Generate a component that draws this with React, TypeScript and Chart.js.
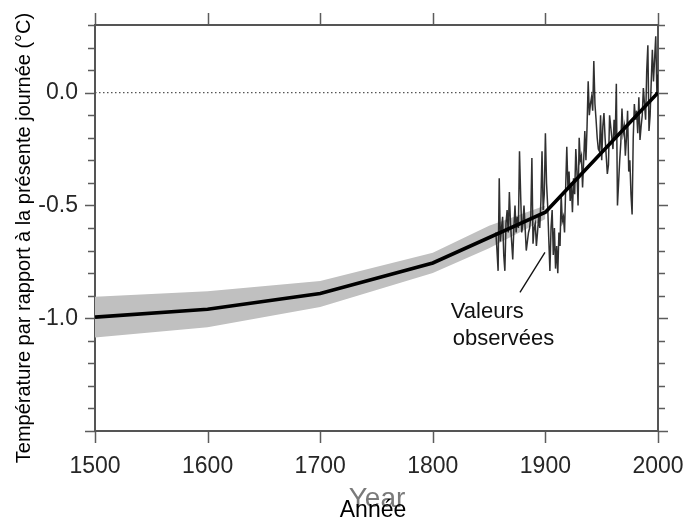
import React, { useEffect, useRef } from 'react';
import { Chart, registerables } from 'chart.js';

Chart.register(...registerables);

const FONT = '"Liberation Sans", Arial, Helvetica, sans-serif';

// Reconstructed smooth curve (century steps)
const smoothYears = [1500, 1600, 1700, 1800, 1900, 2000];
const smoothTemp = [-0.995, -0.96, -0.89, -0.755, -0.53, 0.0];

// Uncertainty band
const bandYears = [1500, 1600, 1700, 1800, 1850, 1900];
const bandUpper = [-0.905, -0.88, -0.835, -0.71, -0.59, -0.5];
const bandLower = [-1.085, -1.04, -0.95, -0.8, -0.69, -0.56];

// Observed annual values, 1856-2000
const obsFirstYear = 1856;
const obsTemp = [
  -0.62, -0.7, -0.79, -0.38, -0.66, -0.6, -0.55, -0.72, -0.79, -0.58,
  -0.52, -0.62, -0.44, -0.58, -0.66, -0.74, -0.6, -0.5, -0.62, -0.55,
  -0.6, -0.26, -0.45, -0.62, -0.58, -0.5, -0.6, -0.7, -0.66, -0.62,
  -0.6, -0.55, -0.29, -0.67, -0.6, -0.58, -0.68, -0.62, -0.55, -0.6,
  -0.48, -0.26, -0.52, -0.45, -0.18, -0.4, -0.5, -0.65, -0.79, -0.6,
  -0.52, -0.72, -0.6, -0.78, -0.68, -0.8, -0.62, -0.68, -0.45, -0.57,
  -0.55, -0.62, -0.42, -0.24, -0.42, -0.35, -0.48, -0.4, -0.53, -0.38,
  -0.45, -0.25, -0.35, -0.5, -0.2, -0.3, -0.28, -0.42, -0.3, -0.17,
  -0.3, -0.15, 0.05, -0.1, -0.05, -0.02, -0.08, 0.14, -0.05, -0.12,
  -0.2, -0.25, -0.26, -0.1, -0.3, -0.15, -0.09, -0.2, -0.28, -0.36,
  -0.32, -0.1, -0.15, -0.2, -0.25, -0.12, -0.2, 0.04, -0.5, -0.4,
  -0.3, -0.22, -0.07, -0.18, -0.15, -0.28, -0.2, -0.08, -0.35, -0.3,
  -0.45, -0.54, -0.2, -0.05, -0.12, -0.08, -0.18, -0.02, -0.21, -0.15,
  -0.1, 0.02, -0.05, -0.12, 0.1, 0.21, -0.17, -0.1, 0.05, 0.19,
  0.05, 0.15, 0.25, 0.0, 0.08,
];

// Reference line at present-day level
const zeroYears = [1500, 2000];
const zeroTemp = [0, 0];

// Axes
const xMin = 1500;
const xMax = 2000;
const xStep = 100;
const yMin = -1.5;
const yMax = 0.3;
const yStep = 0.1;
const yLabelled = [0, -0.5, -1.0];

// Texts
const yTitle = 'Température par rapport à la présente journée (°C)';
const xTitleOld = 'Year';
const xTitle = 'Année';
const annotationLines = ['Valeurs', 'observées'];
const annotationPointer = [
  { x: 1899.6, y: -0.708 },
  { x: 1877.4, y: -0.885 },
];
const annotationTextAnchor = { x: 1816, y: -1.0 };

const decorPlugin = {
  id: 'decor',
  beforeDatasetsDraw(chart: any) {
    const { ctx, chartArea: a, scales } = chart;
    const x = scales.x;
    const y = scales.y;
    ctx.save();
    ctx.strokeStyle = '#5c5c5c';
    ctx.lineWidth = 1.5;
    y.ticks.forEach((t: any) => {
      const py = Math.round(y.getPixelForValue(t.value)) + 0.5;
      const r = Math.round(t.value * 10);
      const major = r % 5 === 0;
      const len = major ? 10 : 7;
      ctx.beginPath();
      ctx.moveTo(a.left - len, py);
      ctx.lineTo(a.left, py);
      ctx.moveTo(a.right, py);
      ctx.lineTo(a.right + len, py);
      ctx.stroke();
    });
    x.ticks.forEach((t: any) => {
      const px = Math.round(x.getPixelForValue(t.value)) + 0.5;
      ctx.beginPath();
      ctx.moveTo(px, a.bottom);
      ctx.lineTo(px, a.bottom + 12);
      ctx.moveTo(px, a.top - 12);
      ctx.lineTo(px, a.top);
      ctx.stroke();
    });
    ctx.lineWidth = 2;
    ctx.strokeStyle = '#555';
    ctx.strokeRect(a.left, a.top, a.right - a.left, a.bottom - a.top);
    ctx.restore();
  },
  afterDraw(chart: any) {
    const { ctx, scales } = chart;
    const x = scales.x;
    const y = scales.y;
    ctx.save();
    // y title
    ctx.translate(24, 238);
    ctx.rotate(-Math.PI / 2);
    ctx.font = `20px ${FONT}`;
    ctx.fillStyle = '#000';
    ctx.textAlign = 'center';
    ctx.textBaseline = 'middle';
    ctx.fillText(yTitle, 0, 0);
    ctx.restore();

    ctx.save();
    ctx.textAlign = 'center';
    ctx.textBaseline = 'alphabetic';
    ctx.font = `28px ${FONT}`;
    ctx.fillStyle = '#7a7a7a';
    ctx.fillText(xTitleOld, 377, 507);
    ctx.font = `23px ${FONT}`;
    ctx.fillStyle = '#000';
    ctx.fillText(xTitle, 373, 517);
    ctx.restore();

    // annotation
    ctx.save();
    ctx.strokeStyle = '#111';
    ctx.lineWidth = 1.3;
    ctx.beginPath();
    ctx.moveTo(x.getPixelForValue(annotationPointer[0].x), y.getPixelForValue(annotationPointer[0].y));
    ctx.lineTo(x.getPixelForValue(annotationPointer[1].x), y.getPixelForValue(annotationPointer[1].y));
    ctx.stroke();
    ctx.font = `22px ${FONT}`;
    ctx.fillStyle = '#111';
    ctx.textAlign = 'left';
    ctx.textBaseline = 'alphabetic';
    const tx = x.getPixelForValue(annotationTextAnchor.x);
    const ty = y.getPixelForValue(annotationTextAnchor.y);
    annotationLines.forEach((s, i) => ctx.fillText(s, tx + i * 2, ty + i * 27));
    ctx.restore();
  },
};

export default function App() {
  const ref = useRef<HTMLCanvasElement | null>(null);
  useEffect(() => {
    document.body.style.margin = '0';
    const canvas = ref.current;
    if (!canvas) return;
    const chart = new Chart(canvas, {
      type: 'line',
      data: {
        datasets: [
          {
            label: 'smooth',
            data: smoothYears.map((yr, i) => ({ x: yr, y: smoothTemp[i] })),
            borderColor: '#000',
            borderWidth: 3.6,
            pointRadius: 0,
            tension: 0,
            fill: false,
            order: 0,
          },
          {
            label: 'observed',
            data: obsTemp.map((v, i) => ({ x: obsFirstYear + i, y: v })),
            borderColor: 'rgba(25,25,25,0.9)',
            borderWidth: 1.5,
            pointRadius: 0,
            tension: 0,
            fill: false,
            order: 1,
          },
          {
            label: 'zero',
            data: zeroYears.map((yr, i) => ({ x: yr, y: zeroTemp[i] })),
            borderColor: '#555',
            borderWidth: 1.3,
            borderDash: [1.5, 2.5],
            pointRadius: 0,
            fill: false,
            order: 2,
          },
          {
            label: 'upper',
            data: bandYears.map((yr, i) => ({ x: yr, y: bandUpper[i] })),
            borderWidth: 0,
            borderColor: 'rgba(0,0,0,0)',
            pointRadius: 0,
            tension: 0,
            fill: false,
            order: 3,
          },
          {
            label: 'lower',
            data: bandYears.map((yr, i) => ({ x: yr, y: bandLower[i] })),
            borderWidth: 0,
            borderColor: 'rgba(0,0,0,0)',
            backgroundColor: '#c0c0c0',
            pointRadius: 0,
            tension: 0,
            fill: '-1',
            order: 4,
          },
        ],
      },
      options: {
        responsive: false,
        animation: false,
        devicePixelRatio: 1,
        layout: { autoPadding: false, padding: { top: 25, right: 31, left: 0, bottom: 0 } },
        plugins: {
          legend: { display: false },
          tooltip: { enabled: false },
          title: { display: false },
        },
        scales: {
          x: {
            type: 'linear',
            min: xMin,
            max: xMax,
            grid: { display: false, drawTicks: false },
            border: { display: false },
            ticks: {
              stepSize: xStep,
              autoSkip: false,
              maxRotation: 0,
              padding: 22,
              color: '#262626',
              font: { size: 23, family: FONT },
              callback: (v: any) => String(v),
            },
            afterFit: (s: any) => {
              s.height = 89;
              s.paddingLeft = 0;
              s.paddingRight = 0;
            },
          },
          y: {
            type: 'linear',
            min: yMin,
            max: yMax,
            grid: { display: false, drawTicks: false },
            border: { display: false },
            ticks: {
              stepSize: yStep,
              autoSkip: false,
              padding: 17,
              color: '#262626',
              font: { size: 23, family: FONT },
              callback: (v: any) => {
                const n = Number(v);
                const hit = yLabelled.some((l) => Math.abs(l - n) < 1e-6);
                return hit ? n.toFixed(1).replace('-0.0', '0.0') : '';
              },
            },
            afterFit: (s: any) => {
              s.width = 95;
              s.paddingTop = 0;
              s.paddingBottom = 0;
            },
          },
        },
      },
      plugins: [decorPlugin],
    });
    return () => chart.destroy();
  }, []);
  return (
    <canvas
      ref={ref}
      width={689}
      height={520}
      style={{ display: 'block', width: 689, height: 520 }}
    />
  );
}
